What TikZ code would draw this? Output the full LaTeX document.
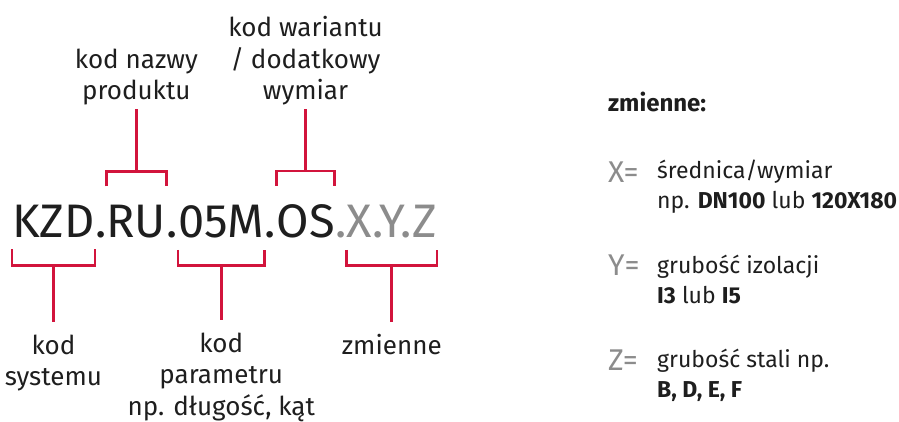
\documentclass[tikz,border=0pt]{standalone}
\usepackage{fontspec}
\setmainfont{Fira Sans}
\usetikzlibrary{positioning}
\definecolor{brkred}{HTML}{D2143C}
\definecolor{codegray}{HTML}{8C8C8C}
\definecolor{inkblack}{HTML}{1E1E1E}
\tikzset{
  codeseg/.style={inner sep=0pt, anchor=base west, font=\fontsize{47}{47}\selectfont, text=inkblack},
  varseg/.style={codeseg, text=codegray},
  bracket/.style={draw=brkred, line width=2.7pt},
  partlabel/.style={align=center, inner xsep=0pt, anchor=base, font=\fontsize{26}{31.5}\selectfont, text=inkblack},
  legendtext/.style={align=left, inner sep=0pt, anchor=base west, font=\fontsize{23}{30}\selectfont, text=inkblack},
  legendtitle/.style={legendtext, font=\bfseries\fontsize{24}{30}\selectfont},
  legendvar/.style={inner sep=0pt, anchor=base west, font=\fontsize{30}{30}\selectfont, text=codegray}
}

\begin{document}
\begin{tikzpicture}[x=1pt, y=1pt]
  \useasboundingbox (0,0) rectangle (899,-422);
  % the code, one segment per node
  \node[codeseg] (kzd) at (12,-237) {KZD};
  \node[codeseg] (d1) at (kzd.base east) {.};
  \node[codeseg] (ru) at (d1.base east) {RU};
  \node[codeseg] (d2) at (ru.base east) {.};
  \node[codeseg] (par) at (d2.base east) {05M};
  \node[codeseg] (d3) at (par.base east) {.};
  \node[codeseg] (os) at (d3.base east) {OS};
  \node[varseg] (d4) at (os.base east) {.};
  \node[varseg] (xyz) at (d4.base east) {X.Y.Z};

  % labels above (base = last line)
  \node[partlabel, inner ysep=3pt] (prodlbl) at (ru.north |- 0,-100) {kod nazwy\\produktu};
  \node[partlabel, inner ysep=3pt] (varlbl) at (os.north |- 0,-100) {kod wariantu\\/ dodatkowy\\wymiar};
  % labels below
  \node[partlabel, inner ysep=12pt] (syslbl) at (kzd.south |- 0,-385.5) {kod\\systemu};
  \node[partlabel, inner ysep=12pt] (parlbl) at (par.south |- 0,-415) {kod\\parametru\\np. długość, kąt};
  \node[partlabel, inner ysep=12pt] (xyzlbl) at (xyz.south |- 0,-354) {zmienne};

  % brackets above
  \draw[bracket] ([yshift=18pt]ru.north west) -- ++(0,15) -| ([yshift=18pt]ru.north east);
  \draw[bracket] ([yshift=33pt]ru.north) -- (prodlbl.south);
  \draw[bracket] ([yshift=18pt]os.north west) -- ++(0,15) -| ([yshift=18pt]os.north east);
  \draw[bracket] ([yshift=33pt]os.north) -- (varlbl.south);
  % brackets below
  \draw[bracket] ([yshift=-12pt]kzd.south west) -- ++(0,-16) -| ([yshift=-12pt]kzd.south east);
  \draw[bracket] ([yshift=-28pt]kzd.south) -- (syslbl.north);
  \draw[bracket] ([yshift=-12pt]par.south west) -- ++(0,-16) -| ([yshift=-12pt]par.south east);
  \draw[bracket] ([yshift=-28pt]par.south) -- (parlbl.north);
  \draw[bracket] ([yshift=-12pt]xyz.south west) -- ++(0,-16) -| ([yshift=-12pt]xyz.south east);
  \draw[bracket] ([yshift=-28pt]xyz.south) -- (xyzlbl.north);

  % legend
  \node[legendtitle] (legtitle) at (608,-112) {zmienne:};
  \node[legendvar] (xvar) at (608,-183) {X=};
  \node[legendtext] (xtext) at (657,-208) {średnica/wymiar\\np. \textbf{DN100} lub \textbf{120X180}};
  \node[legendvar] (yvar) at (608,-275) {Y=};
  \node[legendtext] (ytext) at (657,-303) {grubość izolacji\\\textbf{I3} lub \textbf{I5}};
  \node[legendvar] (zvar) at (608,-370) {Z=};
  \node[legendtext] (ztext) at (657,-397) {grubość stali np.\\\textbf{B, D, E, F}};
\end{tikzpicture}
\end{document}
